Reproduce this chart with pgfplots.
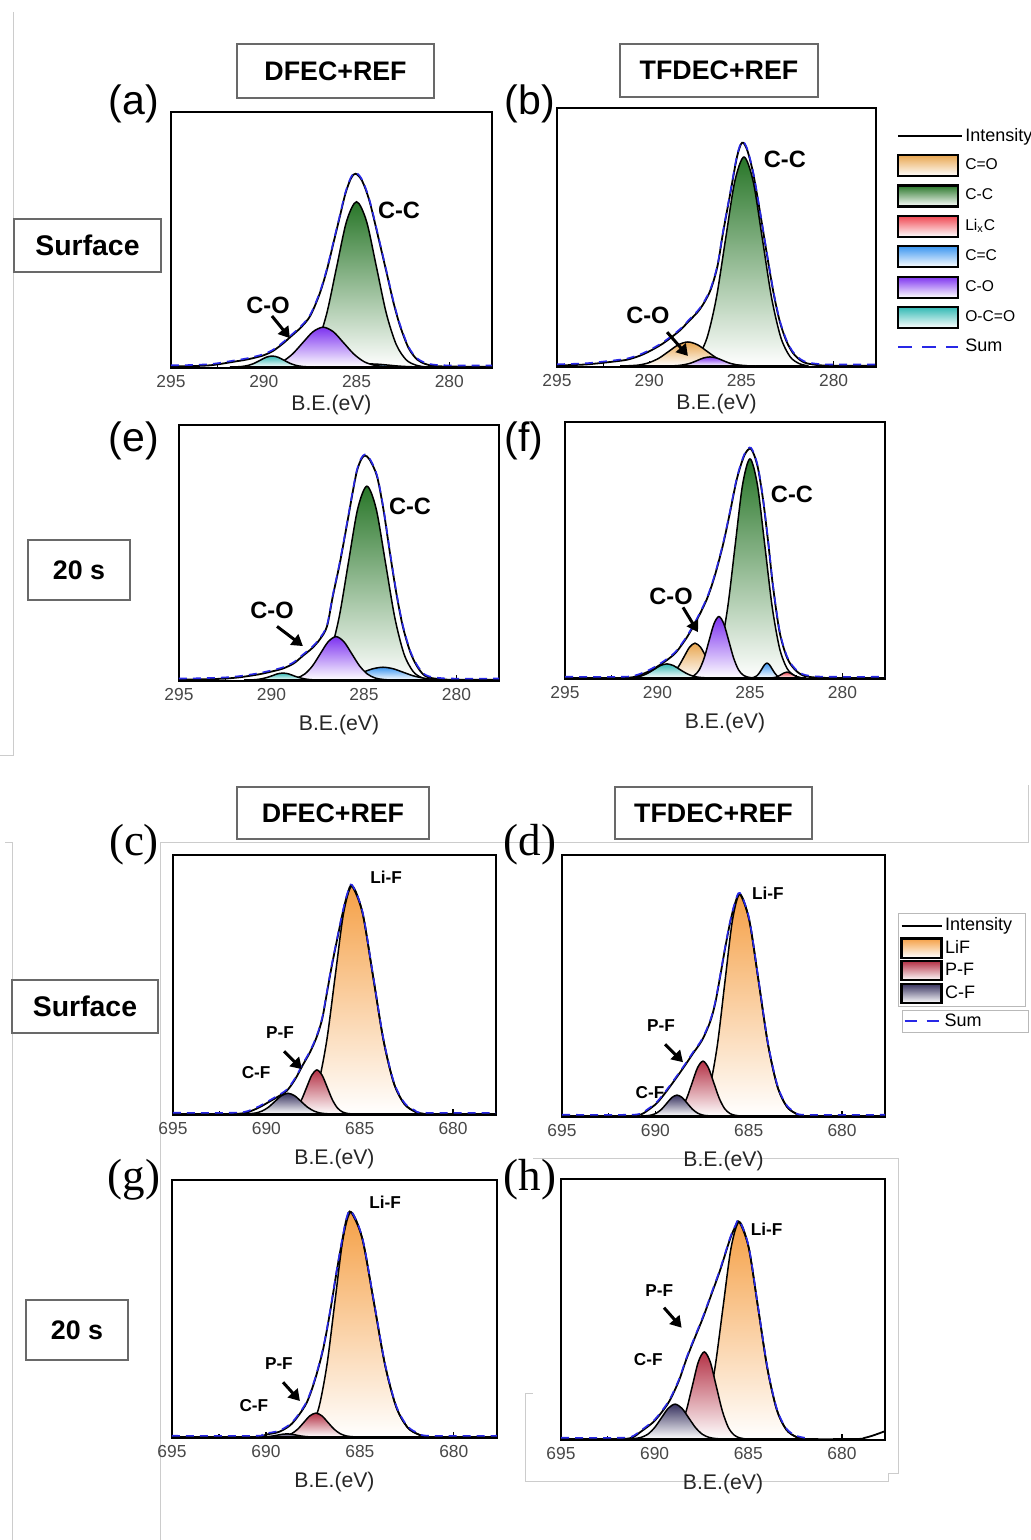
\documentclass[border=0pt]{standalone}
\usepackage{pgfplots}
\pgfplotsset{compat=1.18}
\usetikzlibrary{arrows.meta}
\usepackage{fontspec}
\setmainfont{Liberation Sans}
\newfontfamily\serifpanel{Liberation Serif}

\definecolor{cCO}{RGB}{232,166,80}
\definecolor{cCC}{RGB}{40,118,40}
\definecolor{cLiC}{RGB}{240,70,80}
\definecolor{cCeC}{RGB}{60,150,240}
\definecolor{cCOs}{RGB}{125,50,240}
\definecolor{cOCO}{RGB}{50,185,180}
\definecolor{cLiF}{RGB}{245,160,70}
\definecolor{cPF}{RGB}{180,50,70}
\definecolor{cCF}{RGB}{55,50,95}
\definecolor{sumblue}{RGB}{40,40,230}
\definecolor{boxgray}{RGB}{105,105,105}

\pgfplotsset{
  xps/.style={
    scale only axis,
    x dir=reverse,
    ymin=-0.004, ymax=1,
    ytick=\empty,
    xtick pos=bottom,
    tick align=inside,
    minor x tick num=1,
    major tick length=3pt,
    minor tick length=2pt,
    line width=0.8pt,
    every tick/.style={black, line width=0.6pt},
    tick label style={font=\fontsize{8.7}{10}\selectfont, text=black!72},
    /pgf/number format/assume math mode=true,
    xlabel={B.E.(eV)},
    label style={font=\fontsize{10.6}{12}\selectfont, text=black!85},
  },
  lowlab/.style={xlabel style={at={(axis description cs:0.5,0)}, anchor=center, yshift=-22pt}},
  highlab/.style={xlabel style={at={(axis description cs:0.5,0)}, anchor=center, yshift=-18.7pt}},
  cax/.style={xps, xmin=277.7, xmax=295, xtick={280,285,290,295}},
  fax/.style={xps, lowlab, xmin=677.7, xmax=695, xtick={680,685,690,695}},
  comp/.style={draw=black, line width=0.75pt, smooth, top color=#1, bottom color=white, forget plot},
  env/.style={black, line width=0.9pt, smooth, forget plot},
  sumd/.style={sumblue, line width=0.8pt, dash pattern=on 4pt off 3pt, smooth, forget plot, yshift=0.6pt},
}
\tikzset{
  bigl/.style={font=\bfseries\fontsize{11.8}{13}\selectfont},
  smll/.style={font=\bfseries\fontsize{8.6}{10}\selectfont},
  arr/.style={-{Triangle[length=5.5pt,width=6.5pt]}, line width=1.5pt},
  hdr/.style={draw=boxgray, line width=0.7pt, fill=white, inner sep=0pt, font=\bfseries\fontsize{13.4}{15}\selectfont},
  plab/.style={font=\fontsize{20.5}{24}\selectfont, inner sep=0pt},
  slab/.style={font=\serifpanel\fontsize{22.5}{26}\selectfont, inner sep=0pt},
}

\begin{document}
\begin{tikzpicture}
\useasboundingbox (0pt,0pt) rectangle (515.5pt,-770pt);
% faint frame lines of the source collage
\draw[gray!40, line width=0.5pt] (6.5pt,-6pt) -- (6.5pt,-377.5pt) -- (0pt,-377.5pt);
\draw[gray!40, line width=0.5pt] (2.5pt,-421pt) -- (6pt,-421pt) -- (6pt,-770pt);
\draw[gray!40, line width=0.5pt] (80pt,-770pt) -- (80pt,-421pt) -- (514pt,-421pt) -- (514pt,-392.5pt);
\draw[gray!40, line width=0.5pt] (266.5pt,-579pt) -- (449pt,-579pt) -- (449pt,-736.5pt) -- (444pt,-736.5pt) -- (444pt,-740.5pt) -- (262.5pt,-740.5pt) -- (262.5pt,-696.5pt) -- (266.5pt,-696.5pt);

% headers and row labels
\node[hdr, minimum width=98.5pt, minimum height=27pt] at (167.75pt,-35.5pt) {DFEC+REF};
\node[hdr, minimum width=99pt, minimum height=26.5pt] at (359.5pt,-35.25pt) {TFDEC+REF};
\node[hdr, minimum width=96pt, minimum height=26pt] at (166.5pt,-406.5pt) {DFEC+REF};
\node[hdr, minimum width=98.5pt, minimum height=26pt] at (356.75pt,-406.5pt) {TFDEC+REF};
\node[hdr, minimum width=73.5pt, minimum height=26.5pt, font=\bfseries\fontsize{14.2}{16}\selectfont] at (43.75pt,-122.75pt) {Surface};
\node[hdr, minimum width=51pt, minimum height=30pt] at (39.5pt,-285pt) {20 s};
\node[hdr, minimum width=73pt, minimum height=26.5pt, font=\bfseries\fontsize{14.2}{16}\selectfont] at (42.5pt,-503.25pt) {Surface};
\node[hdr, minimum width=51pt, minimum height=30pt] at (38.5pt,-665pt) {20 s};

% panel letters
\node[plab] at (67pt,-52pt) {(a)};
\node[plab] at (265pt,-52pt) {(b)};
\node[plab] at (67pt,-220.5pt) {(e)};
\node[plab] at (262pt,-220.5pt) {(f)};
\node[slab] at (67pt,-422.5pt) {(c)};
\node[slab] at (265pt,-422.5pt) {(d)};
\node[slab] at (67pt,-590pt) {(g)};
\node[slab] at (265pt,-590pt) {(h)};

% ---------------- (a) ----------------
\begin{axis}[cax, highlab, at={(85.5pt,-56pt)}, anchor=north west, width=160.5pt, height=128pt]
\addplot[comp=cCC] coordinates {(288.745,0) (288.21,0.007) (287.675,0.028) (287.14,0.088) (286.605,0.210) (286.07,0.393) (285.535,0.572) (285.0,0.648) (284.465,0.572) (283.93,0.393) (283.395,0.210) (282.86,0.088) (282.325,0.028) (281.79,0.007) (281.255,0)} \closedcycle;
\addplot[comp=cCeC] coordinates {(287.8,0) (287.3,0.0001) (286.8,0.0005) (286.3,0.0016) (285.8,0.0039) (285.3,0.0073) (284.8,0.0106) (284.3,0.012) (283.8,0.0106) (283.3,0.0073) (282.8,0.0039) (282.3,0.0016) (281.8,0.0005) (281.3,0.0001) (280.8,0)} \closedcycle;
\addplot[comp=cCOs] coordinates {(290.65,0) (290.1,0.002) (289.55,0.007) (289.0,0.021) (288.45,0.051) (287.9,0.095) (287.35,0.138) (286.8,0.156) (286.25,0.138) (285.7,0.095) (285.15,0.051) (284.6,0.021) (284.05,0.007) (283.5,0.002) (282.95,0)} \closedcycle;
\addplot[comp=cOCO] coordinates {(291.825,0) (291.5,0.0005) (291.175,0.002) (290.85,0.006) (290.525,0.014) (290.2,0.026) (289.875,0.038) (289.55,0.043) (289.225,0.038) (288.9,0.026) (288.575,0.014) (288.25,0.006) (287.925,0.002) (287.6,0.0005) (287.275,0)} \closedcycle;
\addplot[env] coordinates {(295,0.002) (294,0.003) (293,0.006) (292.5,0.01) (292,0.016) (291.5,0.022) (291,0.028) (290.5,0.036) (290,0.046) (289.5,0.063) (289,0.09) (288.5,0.122) (288,0.155) (287.5,0.2) (287,0.285) (286.6,0.38) (286.2,0.5) (285.9,0.59) (285.6,0.68) (285.3,0.74) (285.05,0.758) (284.7,0.73) (284.3,0.65) (283.8,0.5) (283.35,0.36) (283,0.25) (282.65,0.16) (282.2,0.075) (281.75,0.03) (281.3,0.012) (280.9,0.005) (280.3,0.002) (279,0.001) (277.7,0.001)};
\addplot[sumd] coordinates {(295,0.002) (294,0.003) (293,0.006) (292.5,0.01) (292,0.016) (291.5,0.022) (291,0.028) (290.5,0.036) (290,0.046) (289.5,0.063) (289,0.09) (288.5,0.122) (288,0.155) (287.5,0.2) (287,0.285) (286.6,0.38) (286.2,0.5) (285.9,0.59) (285.6,0.68) (285.3,0.74) (285.05,0.758) (284.7,0.73) (284.3,0.65) (283.8,0.5) (283.35,0.36) (283,0.25) (282.65,0.16) (282.2,0.075) (281.75,0.03) (281.3,0.012) (280.9,0.005) (280.3,0.002) (279,0.001) (277.7,0.001)};
\node[bigl] at (axis cs:282.71,0.613) {C-C};
\node[bigl] at (axis cs:289.77,0.242) {C-O};
\draw[arr] (axis cs:289.56,0.2) -- (axis cs:288.59,0.113);
\end{axis}

% ---------------- (b) ----------------
\begin{axis}[cax, highlab, at={(278.5pt,-54pt)}, anchor=north west, width=159.5pt, height=129.5pt,
  legend cell align=left,
  legend style={at={(1.063,0.934)}, anchor=north west, draw=none, fill=none, row sep=3.6pt,
    inner sep=0pt, nodes={inner sep=1.2pt}, font=\fontsize{7.8}{9}\selectfont}]
\addplot[comp=cCC] coordinates {(288.36,0) (287.86,0.009) (287.36,0.036) (286.86,0.110) (286.36,0.263) (285.86,0.491) (285.36,0.715) (284.86,0.81) (284.36,0.715) (283.86,0.491) (283.36,0.263) (282.86,0.110) (282.36,0.036) (281.86,0.009) (281.36,0)} \closedcycle;
\addplot[comp=cCO] coordinates {(291.575,0) (291.05,0.001) (290.525,0.004) (290.0,0.013) (289.475,0.030) (288.95,0.056) (288.425,0.082) (287.9,0.093) (287.375,0.082) (286.85,0.056) (286.325,0.030) (285.8,0.013) (285.275,0.004) (284.75,0.001) (284.225,0)} \closedcycle;
\addplot[comp=cCOs] coordinates {(289.15,0) (288.8,0.0004) (288.45,0.0015) (288.1,0.005) (287.75,0.011) (287.4,0.021) (287.05,0.031) (286.7,0.035) (286.35,0.031) (286.0,0.021) (285.65,0.011) (285.3,0.005) (284.95,0.0015) (284.6,0.0004) (284.25,0)} \closedcycle;
\addplot[env] coordinates {(295,0.002) (294,0.004) (293.4,0.006) (292.8,0.01) (292.3,0.014) (291.7,0.019) (291.15,0.025) (290.5,0.04) (289.96,0.058) (289.3,0.085) (288.71,0.116) (288.3,0.14) (287.9,0.17) (287.25,0.22) (286.7,0.29) (286.3,0.386) (286.0,0.515) (285.6,0.67) (285.24,0.81) (284.97,0.865) (284.7,0.84) (284.37,0.75) (284.0,0.6) (283.61,0.43) (283.25,0.28) (282.91,0.17) (282.55,0.095) (282.2,0.05) (281.8,0.022) (281.44,0.01) (280.8,0.003) (280,0.001) (277.7,0.001)};
\addplot[sumd] coordinates {(295,0.002) (294,0.004) (293.4,0.006) (292.8,0.01) (292.3,0.014) (291.7,0.019) (291.15,0.025) (290.5,0.04) (289.96,0.058) (289.3,0.085) (288.71,0.116) (288.3,0.14) (287.9,0.17) (287.25,0.22) (286.7,0.29) (286.3,0.386) (286.0,0.515) (285.6,0.67) (285.24,0.81) (284.97,0.865) (284.7,0.84) (284.37,0.75) (284.0,0.6) (283.61,0.43) (283.25,0.28) (282.91,0.17) (282.55,0.095) (282.2,0.05) (281.8,0.022) (281.44,0.01) (280.8,0.003) (280,0.001) (277.7,0.001)};
\node[bigl] at (axis cs:282.64,0.80) {C-C};
\node[bigl] at (axis cs:290.07,0.197) {C-O};
\draw[arr] (axis cs:289.03,0.131) -- (axis cs:287.9,0.039);
\addlegendimage{legend image code/.code={\draw[black, line width=0.9pt] (0pt,0pt) -- (32pt,0pt);}}
\addlegendentry{\fontsize{9}{10}\selectfont Intensity}
\addlegendimage{legend image code/.code={\draw[line width=1.1pt, top color=cCO, bottom color=white] (0pt,-5.25pt) rectangle (30pt,5.25pt);}}
\addlegendentry{C=O}
\addlegendimage{legend image code/.code={\draw[line width=1.1pt, top color=cCC, bottom color=white] (0pt,-5.25pt) rectangle (30pt,5.25pt);}}
\addlegendentry{C-C}
\addlegendimage{legend image code/.code={\draw[line width=1.1pt, top color=cLiC, bottom color=white] (0pt,-5.25pt) rectangle (30pt,5.25pt);}}
\addlegendentry{Li\textsubscript{x}C}
\addlegendimage{legend image code/.code={\draw[line width=1.1pt, top color=cCeC, bottom color=white] (0pt,-5.25pt) rectangle (30pt,5.25pt);}}
\addlegendentry{C=C}
\addlegendimage{legend image code/.code={\draw[line width=1.1pt, top color=cCOs, bottom color=white] (0pt,-5.25pt) rectangle (30pt,5.25pt);}}
\addlegendentry{C-O}
\addlegendimage{legend image code/.code={\draw[line width=1.1pt, top color=cOCO, bottom color=white] (0pt,-5.25pt) rectangle (30pt,5.25pt);}}
\addlegendentry{O-C=O}
\addlegendimage{legend image code/.code={\draw[sumblue, line width=1pt, dash pattern=on 7pt off 5pt] (0pt,0pt) -- (30pt,0pt);}}
\addlegendentry{\fontsize{9}{10}\selectfont Sum}
\end{axis}

% ---------------- (e) ----------------
\begin{axis}[cax, lowlab, at={(89.5pt,-212.5pt)}, anchor=north west, width=160pt, height=128pt]
\addplot[comp=cCC] coordinates {(288.34,0) (287.84,0.008) (287.34,0.033) (286.84,0.103) (286.34,0.247) (285.84,0.461) (285.34,0.671) (284.84,0.76) (284.34,0.671) (283.84,0.461) (283.34,0.247) (282.84,0.103) (282.34,0.033) (281.84,0.008) (281.34,0)} \closedcycle;
\addplot[comp=cCeC] coordinates {(287.82,0) (287.27,0.0006) (286.72,0.002) (286.17,0.007) (285.62,0.016) (285.07,0.030) (284.52,0.044) (283.97,0.05) (283.42,0.044) (282.87,0.030) (282.32,0.016) (281.77,0.007) (281.22,0.002) (280.67,0.0006) (280.12,0)} \closedcycle;
\addplot[comp=cCOs] coordinates {(289.485,0) (289.06,0.002) (288.635,0.0075) (288.21,0.023) (287.785,0.055) (287.36,0.103) (286.935,0.150) (286.51,0.17) (286.085,0.150) (285.66,0.103) (285.235,0.055) (284.81,0.023) (284.385,0.0075) (283.96,0.002) (283.535,0)} \closedcycle;
\addplot[comp=cOCO] coordinates {(291.48,0) (291.18,0.0003) (290.88,0.0012) (290.58,0.004) (290.28,0.009) (289.98,0.016) (289.68,0.024) (289.38,0.027) (289.08,0.024) (288.78,0.016) (288.48,0.009) (288.18,0.004) (287.88,0.0012) (287.58,0.0003) (287.28,0)} \closedcycle;
\addplot[env] coordinates {(295,0.001) (294,0.002) (293,0.004) (292.4,0.006) (291.8,0.01) (291.2,0.016) (290.62,0.023) (290,0.033) (289.38,0.045) (288.8,0.065) (288.3,0.095) (287.8,0.125) (287.38,0.16) (287.0,0.21) (286.68,0.33) (286.3,0.46) (285.92,0.61) (285.6,0.74) (285.38,0.82) (285.15,0.865) (284.95,0.88) (284.7,0.865) (284.3,0.80) (283.95,0.67) (283.6,0.5) (283.25,0.34) (282.9,0.21) (282.5,0.11) (282.14,0.055) (281.8,0.022) (281.5,0.01) (281.0,0.004) (280.3,0.001) (277.7,0.001)};
\addplot[sumd] coordinates {(295,0.001) (294,0.002) (293,0.004) (292.4,0.006) (291.8,0.01) (291.2,0.016) (290.62,0.023) (290,0.033) (289.38,0.045) (288.8,0.065) (288.3,0.095) (287.8,0.125) (287.38,0.16) (287.0,0.21) (286.68,0.33) (286.3,0.46) (285.92,0.61) (285.6,0.74) (285.38,0.82) (285.15,0.865) (284.95,0.88) (284.7,0.865) (284.3,0.80) (283.95,0.67) (283.6,0.5) (283.25,0.34) (282.9,0.21) (282.5,0.11) (282.14,0.055) (281.8,0.022) (281.5,0.01) (281.0,0.004) (280.3,0.001) (277.7,0.001)};
\node[bigl] at (axis cs:282.51,0.68) {C-C};
\node[bigl] at (axis cs:289.97,0.273) {C-O};
\draw[arr] (axis cs:289.7,0.21) -- (axis cs:288.3,0.133);
\end{axis}

% ---------------- (f) ----------------
\begin{axis}[cax, lowlab, at={(282.5pt,-211pt)}, anchor=north west, width=160pt, height=128.5pt]
\addplot[comp=cCC] coordinates {(287.8,0) (287.4,0.0095) (287.0,0.038) (286.6,0.116) (286.2,0.278) (285.8,0.519) (285.4,0.755) (285.0,0.856) (284.6,0.755) (284.2,0.519) (283.8,0.278) (283.4,0.116) (283.0,0.038) (282.6,0.0095) (282.2,0)} \closedcycle;
\addplot[comp=cCeC] coordinates {(285.06,0) (284.92,0.0006) (284.78,0.0025) (284.64,0.008) (284.5,0.019) (284.36,0.035) (284.22,0.051) (284.08,0.058) (283.94,0.051) (283.8,0.035) (283.66,0.019) (283.52,0.008) (283.38,0.0025) (283.24,0.0006) (283.1,0)} \closedcycle;
\addplot[comp=cLiC] coordinates {(284.05,0) (283.9,0.0003) (283.75,0.001) (283.6,0.003) (283.45,0.0075) (283.3,0.014) (283.15,0.020) (283.0,0.023) (282.85,0.020) (282.7,0.014) (282.55,0.0075) (282.4,0.003) (282.25,0.001) (282.1,0.0003) (281.95,0)} \closedcycle;
\addplot[comp=cCO] coordinates {(290.07,0) (289.77,0.0015) (289.47,0.006) (289.17,0.018) (288.87,0.044) (288.57,0.082) (288.27,0.120) (287.97,0.136) (287.67,0.120) (287.37,0.082) (287.07,0.044) (286.77,0.018) (286.47,0.006) (286.17,0.0015) (285.87,0)} \closedcycle;
\addplot[comp=cCOs] coordinates {(288.535,0) (288.27,0.003) (288.005,0.0105) (287.74,0.032) (287.475,0.078) (287.21,0.146) (286.945,0.212) (286.68,0.24) (286.415,0.212) (286.15,0.146) (285.885,0.078) (285.62,0.032) (285.355,0.0105) (285.09,0.003) (284.825,0)} \closedcycle;
\addplot[comp=cOCO] coordinates {(291.94,0) (291.59,0.0006) (291.24,0.0024) (290.89,0.0074) (290.54,0.018) (290.19,0.033) (289.84,0.0485) (289.49,0.055) (289.14,0.0485) (288.79,0.033) (288.44,0.018) (288.09,0.0074) (287.74,0.0024) (287.39,0.0006) (287.04,0)} \closedcycle;
\addplot[env] coordinates {(295,0) (292,0) (291.32,0.003) (291,0.01) (290.5,0.025) (290,0.045) (289.49,0.07) (289,0.1) (288.4,0.16) (287.85,0.23) (287.32,0.31) (286.9,0.4) (286.46,0.52) (286.1,0.64) (285.7,0.78) (285.3,0.87) (284.95,0.895) (284.6,0.83) (284.3,0.70) (284.0,0.52) (283.76,0.36) (283.4,0.18) (283.0,0.08) (282.6,0.035) (282.14,0.01) (281.5,0.002) (280.5,0) (277.7,0)};
\addplot[sumd] coordinates {(295,0) (292,0) (291.32,0.003) (291,0.01) (290.5,0.025) (290,0.045) (289.49,0.07) (289,0.1) (288.4,0.16) (287.85,0.23) (287.32,0.31) (286.9,0.4) (286.46,0.52) (286.1,0.64) (285.7,0.78) (285.3,0.87) (284.95,0.895) (284.6,0.83) (284.3,0.70) (284.0,0.52) (283.76,0.36) (283.4,0.18) (283.0,0.08) (282.6,0.035) (282.14,0.01) (281.5,0.002) (280.5,0) (277.7,0)};
\node[bigl] at (axis cs:282.73,0.716) {C-C};
\node[bigl] at (axis cs:289.27,0.319) {C-O};
\draw[arr] (axis cs:288.62,0.276) -- (axis cs:287.81,0.179);
\end{axis}

% ---------------- (c) ----------------
\begin{axis}[fax, at={(86.5pt,-427.5pt)}, anchor=north west, width=161.5pt, height=130pt]
\addplot[comp=cLiF] coordinates {(688.56,0) (688.11,0.0098) (687.66,0.039) (687.21,0.119) (686.76,0.286) (686.31,0.534) (685.86,0.777) (685.41,0.88) (684.85,0.777) (684.29,0.534) (683.73,0.286) (683.17,0.119) (682.61,0.039) (682.05,0.0098) (681.49,0)} \closedcycle;
\addplot[comp=cPF] coordinates {(689.215,0) (688.94,0.0019) (688.665,0.0075) (688.39,0.023) (688.115,0.055) (687.84,0.103) (687.565,0.150) (687.29,0.17) (687.015,0.150) (686.74,0.103) (686.465,0.055) (686.19,0.023) (685.915,0.0075) (685.64,0.0019) (685.365,0)} \closedcycle;
\addplot[comp=cCF] coordinates {(691.29,0) (690.94,0.0009) (690.59,0.0035) (690.24,0.011) (689.89,0.026) (689.54,0.0485) (689.19,0.0706) (688.84,0.08) (688.49,0.0706) (688.14,0.0485) (687.79,0.026) (687.44,0.011) (687.09,0.0035) (686.74,0.0009) (686.39,0)} \closedcycle;
\addplot[env] coordinates {(695,0) (692,0) (691.2,0.003) (690.8,0.012) (690.34,0.027) (689.9,0.045) (689.4,0.066) (688.9,0.09) (688.45,0.135) (688.04,0.19) (687.65,0.24) (687.29,0.30) (687.0,0.37) (686.75,0.47) (686.5,0.57) (686.22,0.67) (685.9,0.78) (685.65,0.85) (685.41,0.88) (684.85,0.777) (684.29,0.534) (683.73,0.286) (683.17,0.119) (682.61,0.039) (682.05,0.0098) (681.49,0) (677.7,0)};
\addplot[sumd] coordinates {(695,0) (692,0) (691.2,0.003) (690.8,0.012) (690.34,0.027) (689.9,0.045) (689.4,0.066) (688.9,0.09) (688.45,0.135) (688.04,0.19) (687.65,0.24) (687.29,0.30) (687.0,0.37) (686.75,0.47) (686.5,0.57) (686.22,0.67) (685.9,0.78) (685.65,0.85) (685.41,0.88) (684.85,0.777) (684.29,0.534) (683.73,0.286) (683.17,0.119) (682.61,0.039) (682.05,0.0098) (681.49,0) (677.7,0)};
\node[smll] at (axis cs:683.59,0.915) {Li-F};
\node[smll] at (axis cs:689.27,0.315) {P-F};
\node[smll] at (axis cs:690.55,0.158) {C-F};
\draw[arr] (axis cs:689.05,0.242) -- (axis cs:688.09,0.173);
\end{axis}

% ---------------- (d) ----------------
\begin{axis}[fax, at={(281pt,-427.5pt)}, anchor=north west, width=161.5pt, height=131pt,
  legend cell align=left,
  legend style={at={(1.040,0.779)}, anchor=north west, draw=gray!55, line width=0.5pt, fill=white, row sep=0.6pt,
    inner sep=1pt, nodes={inner sep=1.2pt}, font=\fontsize{9}{10}\selectfont}]
\addplot[comp=cLiF] coordinates {(688.27,0) (687.87,0.0094) (687.47,0.037) (687.07,0.115) (686.67,0.276) (686.27,0.516) (685.87,0.750) (685.47,0.85) (684.97,0.750) (684.47,0.516) (683.97,0.276) (683.47,0.115) (682.97,0.037) (682.47,0.0094) (681.97,0)} \closedcycle;
\addplot[comp=cPF] coordinates {(689.48,0) (689.19,0.0023) (688.9,0.0092) (688.61,0.028) (688.32,0.068) (688.03,0.127) (687.74,0.185) (687.45,0.21) (687.16,0.185) (686.87,0.127) (686.58,0.068) (686.29,0.028) (686.0,0.0092) (685.71,0.0023) (685.42,0)} \closedcycle;
\addplot[comp=cCF] coordinates {(690.765,0) (690.49,0.0009) (690.215,0.0035) (689.94,0.011) (689.665,0.026) (689.39,0.0485) (689.115,0.0706) (688.84,0.08) (688.565,0.0706) (688.29,0.0485) (688.015,0.026) (687.74,0.011) (687.465,0.0035) (687.19,0.0009) (686.915,0)} \closedcycle;
\addplot[env] coordinates {(695,0) (691.5,0) (690.82,0.004) (690.4,0.022) (689.91,0.05) (689.4,0.095) (688.84,0.15) (688.4,0.195) (687.98,0.24) (687.5,0.29) (687.07,0.36) (686.8,0.43) (686.54,0.53) (686.27,0.64) (686.0,0.74) (685.75,0.81) (685.47,0.85) (684.97,0.75) (684.47,0.516) (683.97,0.276) (683.47,0.115) (682.97,0.037) (682.47,0.0094) (681.97,0) (677.7,0)};
\addplot[sumd] coordinates {(695,0) (691.5,0) (690.82,0.004) (690.4,0.022) (689.91,0.05) (689.4,0.095) (688.84,0.15) (688.4,0.195) (687.98,0.24) (687.5,0.29) (687.07,0.36) (686.8,0.43) (686.54,0.53) (686.27,0.64) (686.0,0.74) (685.75,0.81) (685.47,0.85) (684.97,0.75) (684.47,0.516) (683.97,0.276) (683.47,0.115) (682.97,0.037) (682.47,0.0094) (681.97,0) (677.7,0)};
\node[smll] at (axis cs:683.97,0.855) {Li-F};
\node[smll] at (axis cs:689.7,0.347) {P-F};
\node[smll] at (axis cs:690.29,0.088) {C-F};
\draw[arr] (axis cs:689.48,0.275) -- (axis cs:688.52,0.206);
\addlegendimage{legend image code/.code={\draw[black, line width=0.9pt] (0pt,0pt) -- (20pt,0pt);}}
\addlegendentry{\makebox[38pt][l]{Intensity}}
\addlegendimage{legend image code/.code={\draw[line width=1.1pt, top color=cLiF, bottom color=white] (0pt,-4.8pt) rectangle (20pt,4.8pt);}}
\addlegendentry{LiF}
\addlegendimage{legend image code/.code={\draw[line width=1.1pt, top color=cPF, bottom color=white] (0pt,-4.8pt) rectangle (20pt,4.8pt);}}
\addlegendentry{P-F}
\addlegendimage{legend image code/.code={\draw[line width=1.1pt, top color=cCF, bottom color=white] (0pt,-4.8pt) rectangle (20pt,4.8pt);}}
\addlegendentry{C-F}
\end{axis}
\begin{axis}[at={(281pt,-427.5pt)}, anchor=north west, scale only axis, width=161.5pt, height=131pt,
  hide axis, xmin=0, xmax=1, ymin=0, ymax=1,
  legend style={at={(1.053,0.408)}, anchor=north west, draw=gray!55, line width=0.5pt, fill=white,
    inner sep=0.5pt, nodes={inner sep=1pt}, font=\fontsize{9}{10}\selectfont}]
\addlegendimage{legend image code/.code={\draw[sumblue, line width=1pt, dash pattern=on 6pt off 5pt] (0pt,0pt) -- (17pt,0pt);}}
\addlegendentry{\makebox[42pt][l]{\,Sum}}
\end{axis}

% ---------------- (g) ----------------
\begin{axis}[fax, at={(86pt,-590pt)}, anchor=north west, width=162.5pt, height=129pt]
\addplot[comp=cLiF] coordinates {(688.445,0) (688.02,0.0097) (687.595,0.038) (687.17,0.118) (686.745,0.284) (686.32,0.531) (685.895,0.772) (685.47,0.875) (684.87,0.772) (684.27,0.531) (683.67,0.284) (683.07,0.118) (682.47,0.038) (681.87,0.0097) (681.27,0)} \closedcycle;
\addplot[comp=cPF] coordinates {(689.615,0) (689.29,0.001) (688.965,0.004) (688.64,0.0126) (688.315,0.030) (687.99,0.056) (687.665,0.082) (687.34,0.093) (687.015,0.082) (686.69,0.056) (686.365,0.030) (686.04,0.0126) (685.715,0.004) (685.39,0.001) (685.065,0)} \closedcycle;
\addplot[comp=cCF] coordinates {(690.63,0) (690.38,0.0001) (690.13,0.0005) (689.88,0.0016) (689.63,0.0039) (689.38,0.0073) (689.13,0.0106) (688.88,0.012) (688.63,0.0106) (688.38,0.0073) (688.13,0.0039) (687.88,0.0016) (687.63,0.0005) (687.38,0.0001) (687.13,0)} \closedcycle;
\addplot[env] coordinates {(695,0) (690.6,0) (690.2,0.004) (689.94,0.01) (689.3,0.02) (688.72,0.045) (688.3,0.08) (687.82,0.135) (687.4,0.22) (686.96,0.34) (686.6,0.48) (686.22,0.65) (685.9,0.78) (685.7,0.85) (685.47,0.875) (684.87,0.772) (684.27,0.531) (683.67,0.284) (683.07,0.118) (682.47,0.038) (681.87,0.0097) (681.27,0) (677.7,0)};
\addplot[sumd] coordinates {(695,0) (690.6,0) (690.2,0.004) (689.94,0.01) (689.3,0.02) (688.72,0.045) (688.3,0.08) (687.82,0.135) (687.4,0.22) (686.96,0.34) (686.6,0.48) (686.22,0.65) (685.9,0.78) (685.7,0.85) (685.47,0.875) (684.87,0.772) (684.27,0.531) (683.67,0.284) (683.07,0.118) (682.47,0.038) (681.87,0.0097) (681.27,0) (677.7,0)};
\node[smll] at (axis cs:683.66,0.915) {Li-F};
\node[smll] at (axis cs:689.31,0.287) {P-F};
\node[smll] at (axis cs:690.64,0.124) {C-F};
\draw[arr] (axis cs:689.09,0.213) -- (axis cs:688.19,0.14);
\end{axis}

% ---------------- (h) ----------------
\begin{axis}[fax, at={(280.5pt,-589.5pt)}, anchor=north west, width=162pt, height=130.5pt]
\addplot[comp=cLiF] coordinates {(688.525,0) (688.09,0.0093) (687.655,0.037) (687.22,0.113) (686.785,0.271) (686.35,0.506) (685.915,0.737) (685.48,0.835) (684.98,0.737) (684.48,0.506) (683.98,0.271) (683.48,0.113) (682.98,0.037) (682.48,0.0093) (681.98,0)} \closedcycle;
\addplot[comp=cPF] coordinates {(689.59,0) (689.27,0.0037) (688.95,0.0147) (688.63,0.045) (688.31,0.109) (687.99,0.203) (687.67,0.296) (687.35,0.335) (687.03,0.296) (686.71,0.203) (686.39,0.109) (686.07,0.045) (685.75,0.0147) (685.43,0.0037) (685.11,0)} \closedcycle;
\addplot[comp=cCF] coordinates {(691.465,0) (691.1,0.0015) (690.735,0.0059) (690.37,0.018) (690.005,0.0435) (689.64,0.081) (689.275,0.118) (688.91,0.134) (688.545,0.118) (688.18,0.081) (687.815,0.0435) (687.45,0.018) (687.085,0.0059) (686.72,0.0015) (686.355,0)} \closedcycle;
\addplot[env] coordinates {(695,0) (692,0) (691.24,0.004) (690.7,0.03) (690.07,0.065) (689.6,0.105) (689.18,0.15) (688.7,0.225) (688.29,0.31) (687.85,0.39) (687.4,0.47) (686.95,0.56) (686.5,0.65) (685.97,0.77) (685.7,0.815) (685.48,0.835) (684.98,0.737) (684.48,0.506) (683.98,0.271) (683.48,0.113) (682.98,0.037) (682.48,0.0093) (681.98,0) (679.2,0) (678.8,0.004) (678.4,0.012) (678.0,0.022) (677.7,0.03)};
\addplot[sumd] coordinates {(695,0) (692,0) (691.24,0.004) (690.7,0.03) (690.07,0.065) (689.6,0.105) (689.18,0.15) (688.7,0.225) (688.29,0.31) (687.85,0.39) (687.4,0.47) (686.95,0.56) (686.5,0.65) (685.97,0.77) (685.7,0.815) (685.48,0.835) (684.98,0.737) (684.48,0.506) (683.98,0.271) (683.48,0.113) (682.98,0.037) (682.48,0.0093) (681.98,0)};
\node[smll] at (axis cs:684.02,0.807) {Li-F};
\node[smll] at (axis cs:689.75,0.571) {P-F};
\node[smll] at (axis cs:690.34,0.306) {C-F};
\draw[arr] (axis cs:689.5,0.505) -- (axis cs:688.56,0.428);
\end{axis}
\end{tikzpicture}
\end{document}
